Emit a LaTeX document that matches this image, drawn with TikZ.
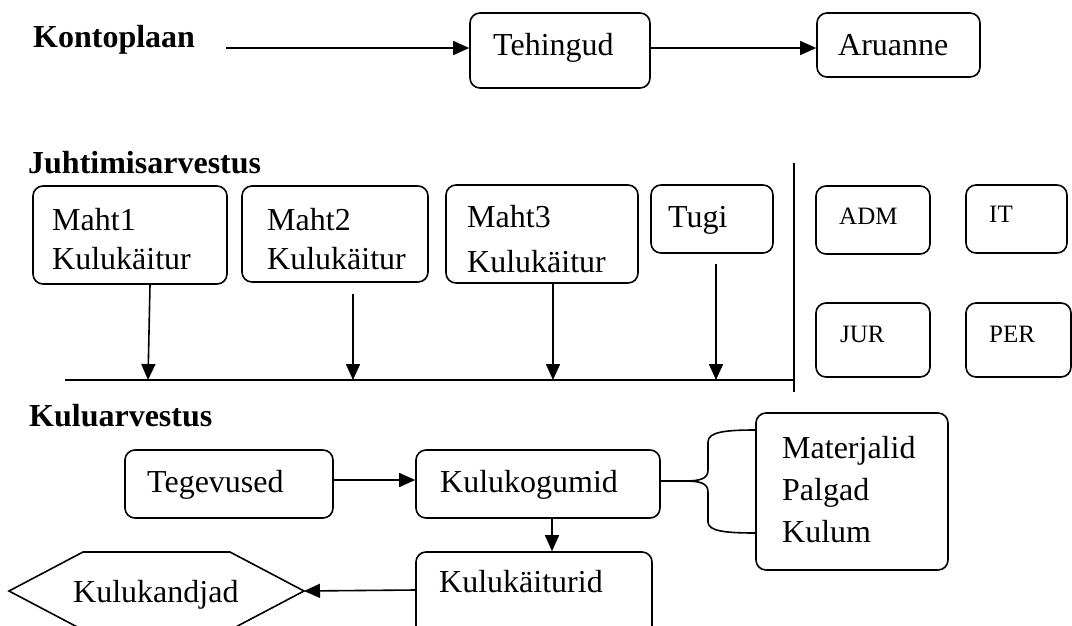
\documentclass[tikz,border=0pt]{standalone}
\usepackage{fontspec}
\setmainfont{Liberation Serif}
\usetikzlibrary{arrows.meta}
\begin{document}
\begin{tikzpicture}[x=1pt,y=-1pt,
  box/.style={draw, line width=1.6pt, rounded corners=10pt, inner sep=0pt},
  txt/.style={anchor=base west, inner sep=0pt, font=\fontsize{32}{38}\selectfont},
  stxt/.style={anchor=base west, inner sep=0pt, font=\fontsize{25}{30}\selectfont},
  head/.style={anchor=base west, inner sep=0pt, font=\fontsize{32}{38}\selectfont\bfseries},
  ln/.style={line width=1.6pt},
  arr/.style={line width=1.6pt, -{Triangle[length=16pt,width=14pt]}},
]
\useasboundingbox (0,0) rectangle (1072,625);

% ---- Kontoplaan row
\node[head] (kont) at (33,47) {Kontoplaan};
\node[box, minimum width=180pt, minimum height=75pt] (teh) at (560,50.5) {};
\node[txt] (tehT) at (493,55) {Tehingud};
\node[box, minimum width=163pt, minimum height=64pt] (aru) at (898.5,45) {};
\node[txt] (aruT) at (838,55) {Aruanne};
\coordinate (k1) at (226,48);
\draw[arr] (k1) -- (k1 -| teh.west);
\draw[arr] (teh.east |- k1) -- (k1 -| aru.west);

% ---- Juhtimisarvestus
\node[head] (juht) at (28,173) {Juhtimisarvestus};
\node[box, minimum width=194pt, minimum height=98pt] (m1) at (130,235) {};
\node[txt] (m1a) at (52,230) {Maht1};
\node[txt] (m1b) at (52,269) {Kulukäitur};
\node[box, minimum width=186pt, minimum height=96pt] (m2) at (335,234) {};
\node[txt] (m2a) at (267,230) {Maht2};
\node[txt] (m2b) at (267,269) {Kulukäitur};
\node[box, minimum width=192pt, minimum height=98pt] (m3) at (542,234) {};
\node[txt] (m3a) at (467,227) {Maht3};
\node[txt] (m3b) at (467,272) {Kulukäitur};
\node[box, minimum width=122pt, minimum height=68pt] (tugi) at (712,219) {};
\node[txt] (tugiT) at (668,227) {Tugi};

\coordinate (L0) at (65,380);
\coordinate (L1) at (794,380);
\coordinate (V0) at (794,163);
\coordinate (V1) at (794,392);
\draw[ln] (L0) -- (L1);
\draw[ln] (V0) -- (V1);
\coordinate (b1) at (148,380);
\coordinate (b2) at (353,380);
\coordinate (b3) at (553,380);
\coordinate (b4) at (716,380);
\draw[arr] ([xshift=20pt]m1.south) -- (b1);
\draw[arr] ([xshift=18pt,yshift=-11pt]m2.south) -- (b2);
\draw[arr] ([xshift=11pt]m3.south) -- (b3);
\draw[arr] ([xshift=4pt,yshift=-10pt]tugi.south) -- (b4);

\node[box, minimum width=114pt, minimum height=68pt] (adm) at (873,220) {};
\node[stxt] (admT) at (839,224) {ADM};
\node[box, minimum width=101pt, minimum height=68pt] (it) at (1016.5,219) {};
\node[stxt] (itT) at (989,222) {IT};
\node[box, minimum width=114pt, minimum height=74pt] (jur) at (873,340) {};
\node[stxt] (jurT) at (840,342) {JUR};
\node[box, minimum width=105pt, minimum height=74pt] (per) at (1018.5,340) {};
\node[stxt] (perT) at (989,342) {PER};

% ---- Kuluarvestus
\node[head] (kulu) at (29,426) {Kuluarvestus};
\node[box, minimum width=208pt, minimum height=68pt] (teg) at (229,484) {};
\node[txt] (tegT) at (147,492) {Tegevused};
\node[box, minimum width=244pt, minimum height=68pt] (kog) at (538,484) {};
\node[txt] (kogT) at (440,492) {Kulukogumid};
\draw[arr] ([yshift=4pt]teg.east) -- ([yshift=4pt]kog.west);

\node[box, minimum width=192pt, minimum height=157pt] (mat) at (852,491.5) {};
\node[txt] (matA) at (782,458) {Materjalid};
\node[txt] (matB) at (782,500) {Palgad};
\node[txt] (matC) at (782,542) {Kulum};

\coordinate (bt) at (684,481);
\draw[ln] ([yshift=3pt]kog.east) -- (bt);
\draw[ln] (bt) .. controls (700,481) and (708,479) .. (708,470) -- (708,442)
  .. controls (708,432) and (725,430) .. (mat.west |- 0,430);
\draw[ln] (bt) .. controls (700,481) and (708,483) .. (708,492) -- (708,522)
  .. controls (708,531) and (725,533) .. (mat.west |- 0,533);

\node[box, minimum width=236pt, minimum height=88pt] (kai) at (534,596) {};
\node[txt] (kaiT) at (439,592) {Kulukäiturid};
\draw[arr] ([xshift=14pt]kog.south) -- ([xshift=18pt]kai.north);

\coordinate (hexR) at (304,591);
\draw[ln] (hexR) -- (230,552) -- (83,552) -- (9,591) -- (83,630) -- (230,630) -- cycle;
\node[txt] (kand) at (73,602) {Kulukandjad};
\draw[arr] ([yshift=6pt]kai.west) -- (hexR);
\end{tikzpicture}
\end{document}
